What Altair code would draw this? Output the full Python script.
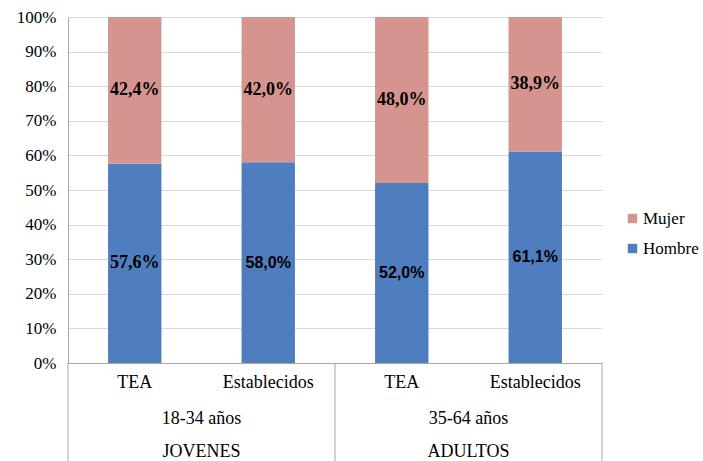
import altair as alt
import pandas as pd

# ---- data ----
ids = ["1|TEA", "2|Establecidos", "3|TEA", "4|Establecidos"]
hombre = [57.6, 58.0, 52.0, 61.1]
mujer = [42.4, 42.0, 48.0, 38.9]
group_pos = [1, 3]
edades = ["18-34 años", "35-64 años"]
grupos = ["JOVENES", "ADULTOS"]
separators = [0, 2, 4]

rows = []
for i, h, m in zip(ids, hombre, mujer):
    rows.append({"id": i, "sexo": "Hombre", "value": h, "ord": 0,
                 "lbl": f"{h:.1f}".replace(".", ",") + "%"})
    rows.append({"id": i, "sexo": "Mujer", "value": m, "ord": 1,
                 "lbl": f"{m:.1f}".replace(".", ",") + "%"})
df = pd.DataFrame(rows)
gdf = pd.DataFrame({"pos": group_pos, "edad": edades, "grupo": grupos})
sdf = pd.DataFrame({"pos": separators})

SERIF = "Liberation Serif"
SANS = "Liberation Sans"
PINK = "#D6948F"
BLUE = "#4F7EC0"
AXC = "#a6a6a6"

x_scale = alt.Scale(type="band", domain=ids, paddingInner=0.6, paddingOuter=0.3)
x_axis = alt.Axis(
    title=None,
    labelExpr="split(datum.label, '|')[1]",
    labelAngle=0,
    labelFont=SERIF,
    labelFontSize=18,
    labelColor="black",
    labelBaseline="middle",
    labelPadding=19,
    ticks=False,
    grid=False,
    domainColor=AXC,
)
y_scale = alt.Scale(domain=[0, 100])
y_axis = alt.Axis(
    title=None,
    values=list(range(0, 101, 10)),
    format="d",
    labelExpr="datum.label + '%'",
    labelFont=SERIF,
    labelFontSize=17,
    labelColor="black",
    labelPadding=12,
    labelOverlap=False,
    labelFlush=False,
    ticks=False,
    grid=True,
    gridColor="#d9d9d9",
    domainColor=AXC,
)

bars = alt.Chart(df).mark_bar().encode(
    x=alt.X("id:N", sort=ids, scale=x_scale, axis=x_axis),
    y=alt.Y("value:Q", stack="zero", scale=y_scale, axis=y_axis),
    color=alt.Color(
        "sexo:N",
        scale=alt.Scale(domain=["Mujer", "Hombre"], range=[PINK, BLUE]),
        legend=alt.Legend(
            title=None,
            orient="none",
            legendX=556,
            legendY=193,
            symbolType="square",
            symbolSize=90,
            symbolStrokeWidth=0,
            labelFont=SERIF,
            labelFontSize=17,
            labelColor="black",
            labelOffset=2,
            rowPadding=12,
        ),
    ),
    order=alt.Order("ord:Q"),
)

base_lbl = (
    alt.Chart(df)
    .transform_stack(stack="value", groupby=["id"], as_=["v0", "v1"], sort=[alt.SortField("ord")])
    .transform_calculate(mid="(datum.v0 + datum.v1) / 2")
)

serif_lbl = base_lbl.transform_filter(
    "datum.sexo == 'Mujer' || datum.id == '1|TEA'"
).mark_text(font=SERIF, fontSize=18, fontWeight="bold", color="black", baseline="middle").encode(
    x=alt.X("id:N", sort=ids, scale=x_scale, axis=None, bandPosition=0.5),
    y=alt.Y("mid:Q", scale=y_scale, axis=y_axis),
    text="lbl:N",
)
sans_lbl = base_lbl.transform_filter(
    "datum.sexo == 'Hombre' && datum.id != '1|TEA'"
).mark_text(font=SANS, fontSize=16, fontWeight="bold", color="black", baseline="middle").encode(
    x=alt.X("id:N", sort=ids, scale=x_scale, axis=None, bandPosition=0.5),
    y=alt.Y("mid:Q", scale=y_scale, axis=y_axis),
    text="lbl:N",
)

gx = alt.X("pos:Q", scale=alt.Scale(domain=[0, 4]), axis=None)

seps = alt.Chart(sdf).mark_rule(color=AXC, strokeWidth=1).encode(
    x=gx, y=alt.value(346), y2=alt.value(444)
)
edad_txt = alt.Chart(gdf).mark_text(font=SERIF, fontSize=18, color="black", baseline="middle").encode(
    x=gx, y=alt.value(402), text="edad:N"
)
grupo_txt = alt.Chart(gdf).mark_text(font=SERIF, fontSize=18, color="black", baseline="middle").encode(
    x=gx, y=alt.value(435), text="grupo:N"
)

chart = (
    alt.layer(bars, serif_lbl, sans_lbl, seps, edad_txt, grupo_txt)
    .resolve_scale(x="independent")
    .resolve_axis(x="independent")
    .properties(
        width=534,
        height=346,
        autosize=alt.AutoSizeParams(type="none"),
        padding={"left": 68, "top": 17, "right": 101, "bottom": 98},
    )
    .configure_view(strokeWidth=0)
    .configure_axis(labelFont=SERIF)
    .configure_legend(labelFont=SERIF)
)

chart.save("out.html", embed_options={"renderer": "svg", "actions": False})
